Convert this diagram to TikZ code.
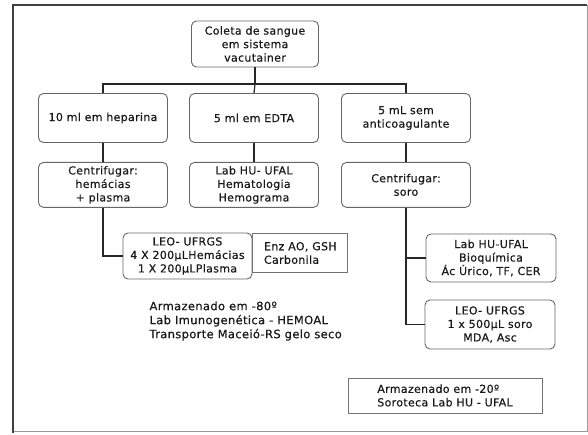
\documentclass[tikz,border=0pt]{standalone}
\usepackage{fontspec}
\setmainfont{DejaVu Sans}[LetterSpace=3, FakeBold=0.5]
\usepackage{tikz}
\usetikzlibrary{positioning}

\begin{document}
\begin{tikzpicture}[x=1pt, y=-1pt,
  every node/.style={font=\fontsize{11}{13.5}\selectfont, text=black!90},
  caixa/.style={draw=black!60, line width=0.9pt, rounded corners=5pt, align=center,
    minimum width=129pt, minimum height=49pt, inner sep=0pt},
  quadro/.style={draw=black!55, line width=0.8pt, align=left, inner sep=3pt},
  liga/.style={line width=1.2pt, black!85}]
\useasboundingbox (0,0) rectangle (588,435);
% moldura
\draw[black!40, line width=0.6pt] (13,431) -- (587,431) -- (587,5);
\draw[black!75, line width=2.2pt] (13,433) -- (13,5) -- (587,5);

\node[caixa, minimum width=127pt, minimum height=46pt] (coleta) at (255,44) {Coleta de sangue\\em sistema\\vacutainer};
\coordinate (barra) at (255,84);

\node[caixa] (heparina) at (103,118) {10 ml em heparina};
\node[caixa] (edta) at (254,118) {5 ml em EDTA};
\node[caixa] (semanti) at (406,118) {5 mL sem\\anticoagulante};

\node[caixa, minimum height=45pt, below=19pt of heparina] (centr1) {Centrifugar:\\hemácias\\+ plasma};
\node[caixa, minimum height=45pt, below=19pt of edta] (hemato) {Lab HU- UFAL\\Hematologia\\Hemograma};
\node[caixa, minimum height=45pt, below=19pt of semanti] (centr2) {Centrifugar:\\soro};

\node[caixa, minimum height=46pt] (leo1) at (187.5,256) {LEO- UFRGS\\4 X 200µLHemácias\\1 X 200µLPlasma};
\node[quadro, anchor=west, minimum width=95pt, minimum height=39pt] (enz) at ([yshift=3pt]leo1.east) {Enz AO, GSH\\Carbonila};

\node[anchor=west, align=left, font=\fontsize{11.5}{14}\selectfont] (m80) at (146,321) {Armazenado em -80º\\Lab Imunogenética - HEMOAL\\Transporte Maceió-RS gelo seco};

\node[caixa, minimum width=130pt, minimum height=48pt] (labhu) at (491,258) {Lab HU-UFAL\\Bioquímica\\Ác Úrico, TF, CER};
\node[caixa, minimum width=130pt] (leo2) at (490,324.5) {LEO- UFRGS\\1 x 500µL soro\\MDA, Asc};

\node[quadro, minimum width=194pt, minimum height=35pt] (m20) at (445,395.5) {Armazenado em -20º\\Soroteca Lab HU - UFAL};

% ligacoes
\draw[liga] (coleta.south) -- (barra);
\draw[liga] (heparina.north) -- (heparina.north |- barra) -- (semanti.north |- barra) -- (semanti.north);
\draw[liga] (barra) -- (edta.north);
\draw[liga] (heparina) -- (centr1);
\draw[liga] (edta) -- (hemato);
\draw[liga] (semanti) -- (centr2);
\draw[liga] (centr1.south) |- (leo1.west);
\draw[liga] (centr2.south) |- (leo2.west);
\draw[liga] (centr2.south |- labhu.west) -- (labhu.west);
\end{tikzpicture}
\end{document}
